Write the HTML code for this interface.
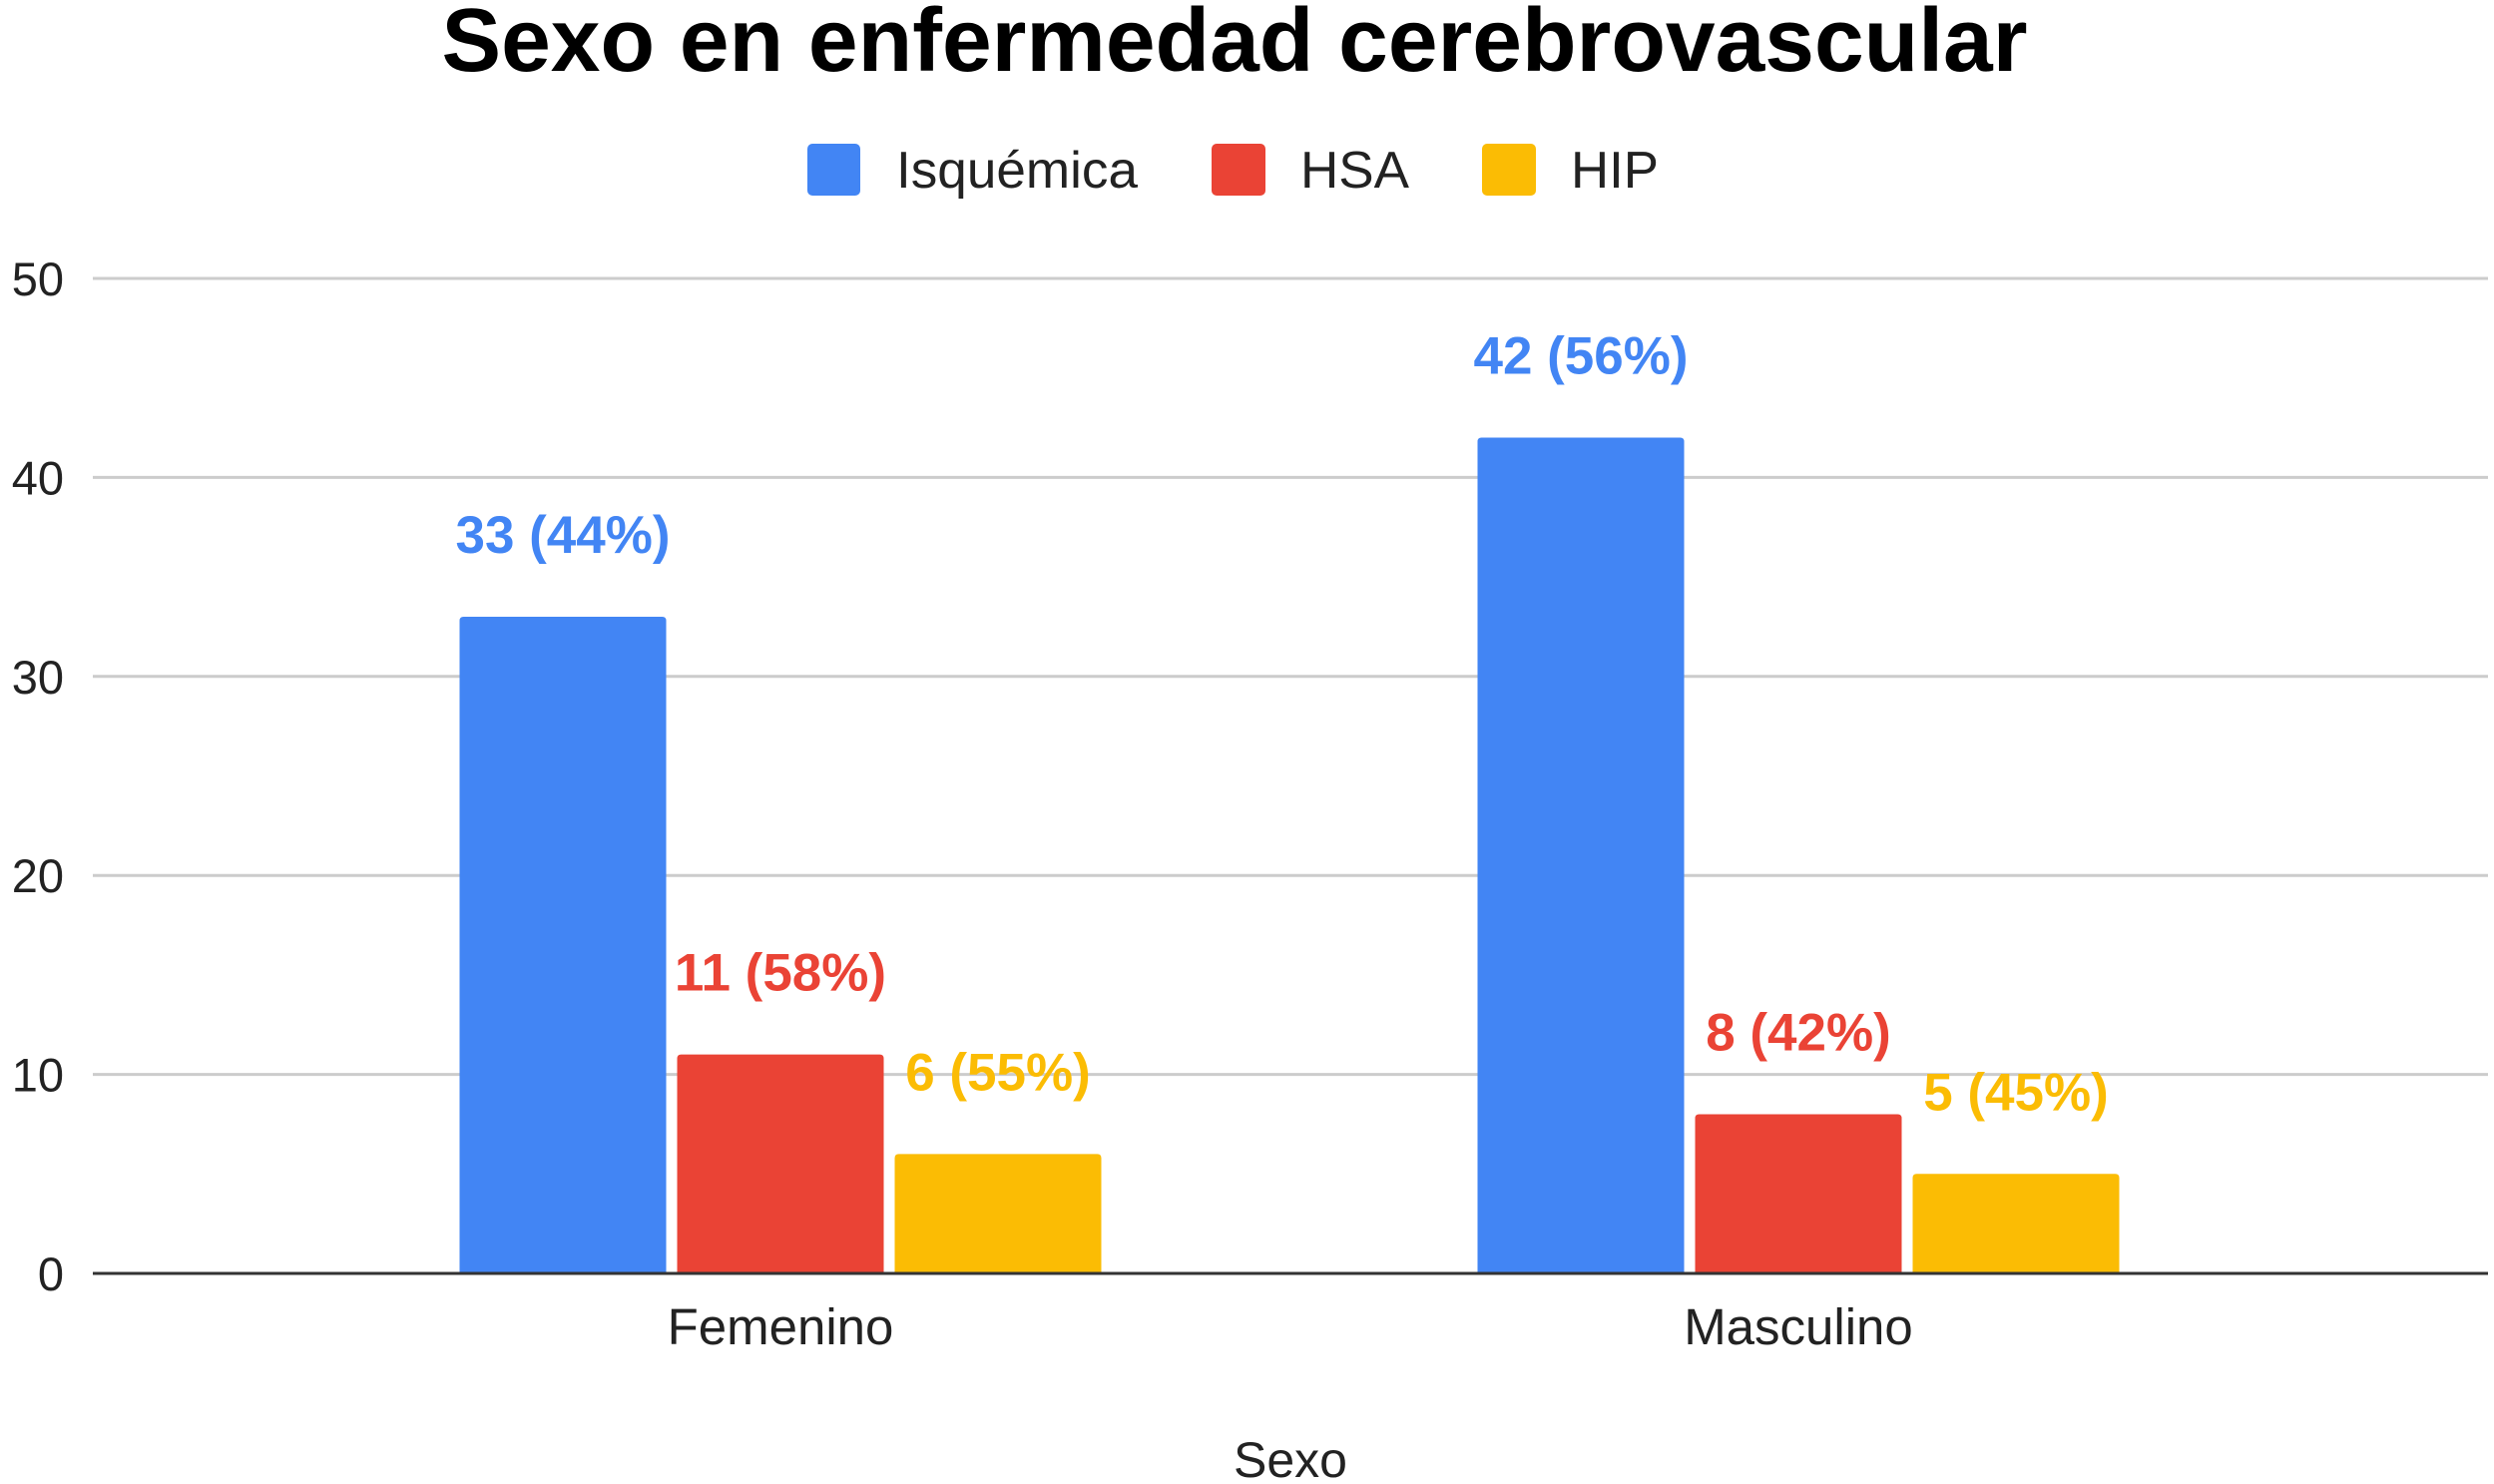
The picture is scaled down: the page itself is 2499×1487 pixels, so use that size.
<!DOCTYPE html>
<html><head><meta charset="utf-8"><style>
html,body{margin:0;padding:0;background:#fff;}
svg{display:block;font-family:"Liberation Sans",sans-serif;}
</style></head><body>
<svg id="chart" width="2499" height="1487" viewBox="0 0 2499 1487">
<text x="1237" y="71" text-anchor="middle" font-size="90" font-weight="bold" fill="#000" textLength="1589" lengthAdjust="spacingAndGlyphs">Sexo en enfermedad cerebrovascular</text>
<g>
 <g><rect x="809" y="144" width="53" height="52" rx="5" fill="#4285f4"/><text x="898" y="188" font-size="52" fill="#222" textLength="242" lengthAdjust="spacingAndGlyphs">Isquémica</text></g>
 <g><rect x="1214" y="144" width="54" height="52" rx="5" fill="#ea4335"/><text x="1303" y="188" font-size="52" fill="#222" textLength="109" lengthAdjust="spacingAndGlyphs">HSA</text></g>
 <g><rect x="1485" y="144" width="54" height="52" rx="5" fill="#fbbc04"/><text x="1574" y="188" font-size="52" fill="#222" textLength="88" lengthAdjust="spacingAndGlyphs">HIP</text></g>
</g>
<g id="grid"></g><g id="bars"></g><g id="labels"></g>
<text x="1293" y="1480" text-anchor="middle" font-size="50" fill="#222">Sexo</text>
</svg>
<script>
const categories=["Femenino","Masculino"];
const seriesNames=["Isquémica","HSA","HIP"];
const isquemica=[33,42];
const hsa=[11,8];
const hip=[6,5];
const pctIsq=["44%","56%"];
const pctHsa=["58%","42%"];
const pctHip=["55%","45%"];
const yTicks=[0,10,20,30,40,50];
const colors=["#4285f4","#ea4335","#fbbc04"];
const NS="http://www.w3.org/2000/svg";
const x0=93,x1=2493,y0=1276,yTop=279,yMax=50;
const y=v=>y0-(y0-yTop)*v/yMax;
const catStart=272,band=1020;
const bw=207,gap=11;
function mk(t,a,p){const e=document.createElementNS(NS,t);for(const k in a)e.setAttribute(k,a[k]);p.appendChild(e);return e;}
const grid=document.getElementById('grid'),bars=document.getElementById('bars'),labels=document.getElementById('labels');
yTicks.forEach(t=>{
 const l=mk('line',{x1:x0,x2:x1,y1:y(t),y2:y(t),stroke:t===0?'#333':'#ccc','stroke-width':3},grid);
 
 
 const tx=mk('text',{x:64,y:y(t)+17,'text-anchor':'end','font-size':47,fill:'#222'},grid);
 tx.textContent=t;
 
 
});
const series=[isquemica,hsa,hip],pcts=[pctIsq,pctHsa,pctHip];
categories.forEach((c,i)=>{
 const cx=catStart+band*(i+0.5);
 const start=cx-(3*bw+2*gap)/2;
 series.forEach((s,j)=>{
  const bx=start+j*(bw+gap),top=y(s[i]);
  const r=mk('path',{d:`M${bx},${y0} V${top+4} Q${bx},${top} ${bx+4},${top} H${bx+bw-4} Q${bx+bw},${top} ${bx+bw},${top+4} V${y0} Z`,fill:colors[j]},bars);
  
  
  const t=mk('text',{x:bx+bw/2,y:top-64,'text-anchor':'middle','font-size':53,'font-weight':'bold',fill:colors[j]},labels);
  t.textContent=s[i]+' ('+pcts[j][i]+')';
  
  
 });
 const xl=mk('text',{x:cx,y:1347,'text-anchor':'middle','font-size':51,fill:'#222'},labels);
 xl.textContent=c;
 
 
});
const base=mk('line',{x1:x0,x2:x1,y1:y0,y2:y0,stroke:'#333','stroke-width':3},bars);


</script>
</body></html>
